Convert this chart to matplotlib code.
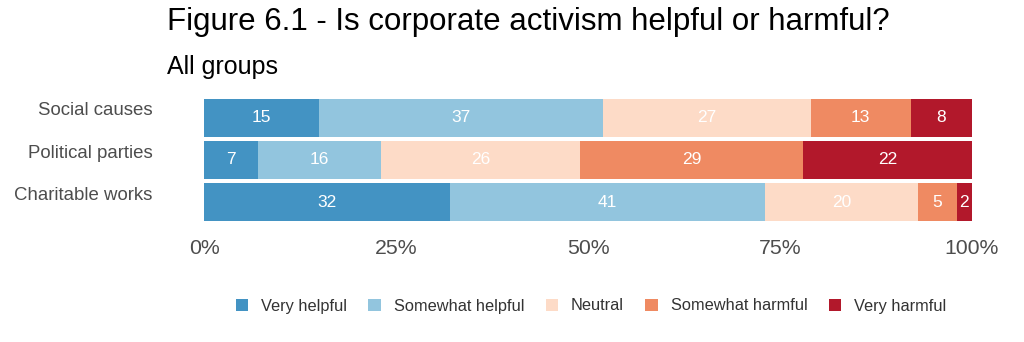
import matplotlib
matplotlib.use("Agg")
import matplotlib.pyplot as plt
import matplotlib.transforms as mtransforms
from matplotlib.ticker import PercentFormatter
import numpy as np

plt.rcParams['font.family'] = ['Liberation Sans', 'DejaVu Sans']

categories = ['Social causes', 'Political parties', 'Charitable works']
responses = ['Very helpful', 'Somewhat helpful', 'Neutral', 'Somewhat harmful', 'Very harmful']
very_helpful = [15, 7, 32]
somewhat_helpful = [37, 16, 41]
neutral = [27, 26, 20]
somewhat_harmful = [13, 29, 5]
very_harmful = [8, 22, 2]
colors = ['#4393c3', '#92c5de', '#fddbc7', '#ef8a62', '#b2182b']

series = [very_helpful, somewhat_helpful, neutral, somewhat_harmful, very_harmful]

fig = plt.figure(figsize=(10.24, 3.42), dpi=100)
ax = fig.add_axes([204 / 1024, 1 - 221 / 342, 768 / 1024, 122 / 342])

y = np.arange(len(categories))
totals = np.sum(series, axis=0)
left = np.zeros(len(categories))
for vals, name, col in zip(series, responses, colors):
    share = np.array(vals) / totals
    ax.barh(y, share, left=left, height=0.9, color=col, label=name)
    for yi, s, l, v in zip(y, share, left, vals):
        ax.text(l + s / 2, yi, str(v), ha='center', va='center', color='white', fontsize=12.5)
    left += share

ax.set_xlim(0, 1)
ax.set_ylim(2.45, -0.45)
ax.set_yticks(y)
ax.set_yticklabels(categories, fontsize=13.4, color='#4d4d4d')
ax.set_xticks([0, 0.25, 0.5, 0.75, 1])
ax.xaxis.set_major_formatter(PercentFormatter(1.0, decimals=0))
ax.tick_params(axis='x', length=0, pad=13, labelsize=15.3, labelcolor='#4d4d4d')
ax.tick_params(axis='y', length=0, pad=37)
shift = mtransforms.ScaledTranslation(0, 9 / 100, fig.dpi_scale_trans)
for lab in ax.get_yticklabels():
    lab.set_transform(lab.get_transform() + shift)
for s in ax.spines.values():
    s.set_visible(False)

fig.text(167 / 1024, 1 - 22 / 342, 'Figure 6.1 - Is corporate activism helpful or harmful?',
         fontsize=22.5, va='center', ha='left', color='black')
fig.text(167 / 1024, 1 - 67 / 342, 'All groups', fontsize=18, va='center', ha='left', color='black')

fig.legend(loc='center', bbox_to_anchor=(591 / 1024, 1 - 306 / 342), ncol=5, frameon=False,
           fontsize=11.8, handlelength=0.75, handleheight=0.75, columnspacing=1.3, handletextpad=0.8,
           labelcolor='#333333')

fig.savefig('out.png', dpi=100)
